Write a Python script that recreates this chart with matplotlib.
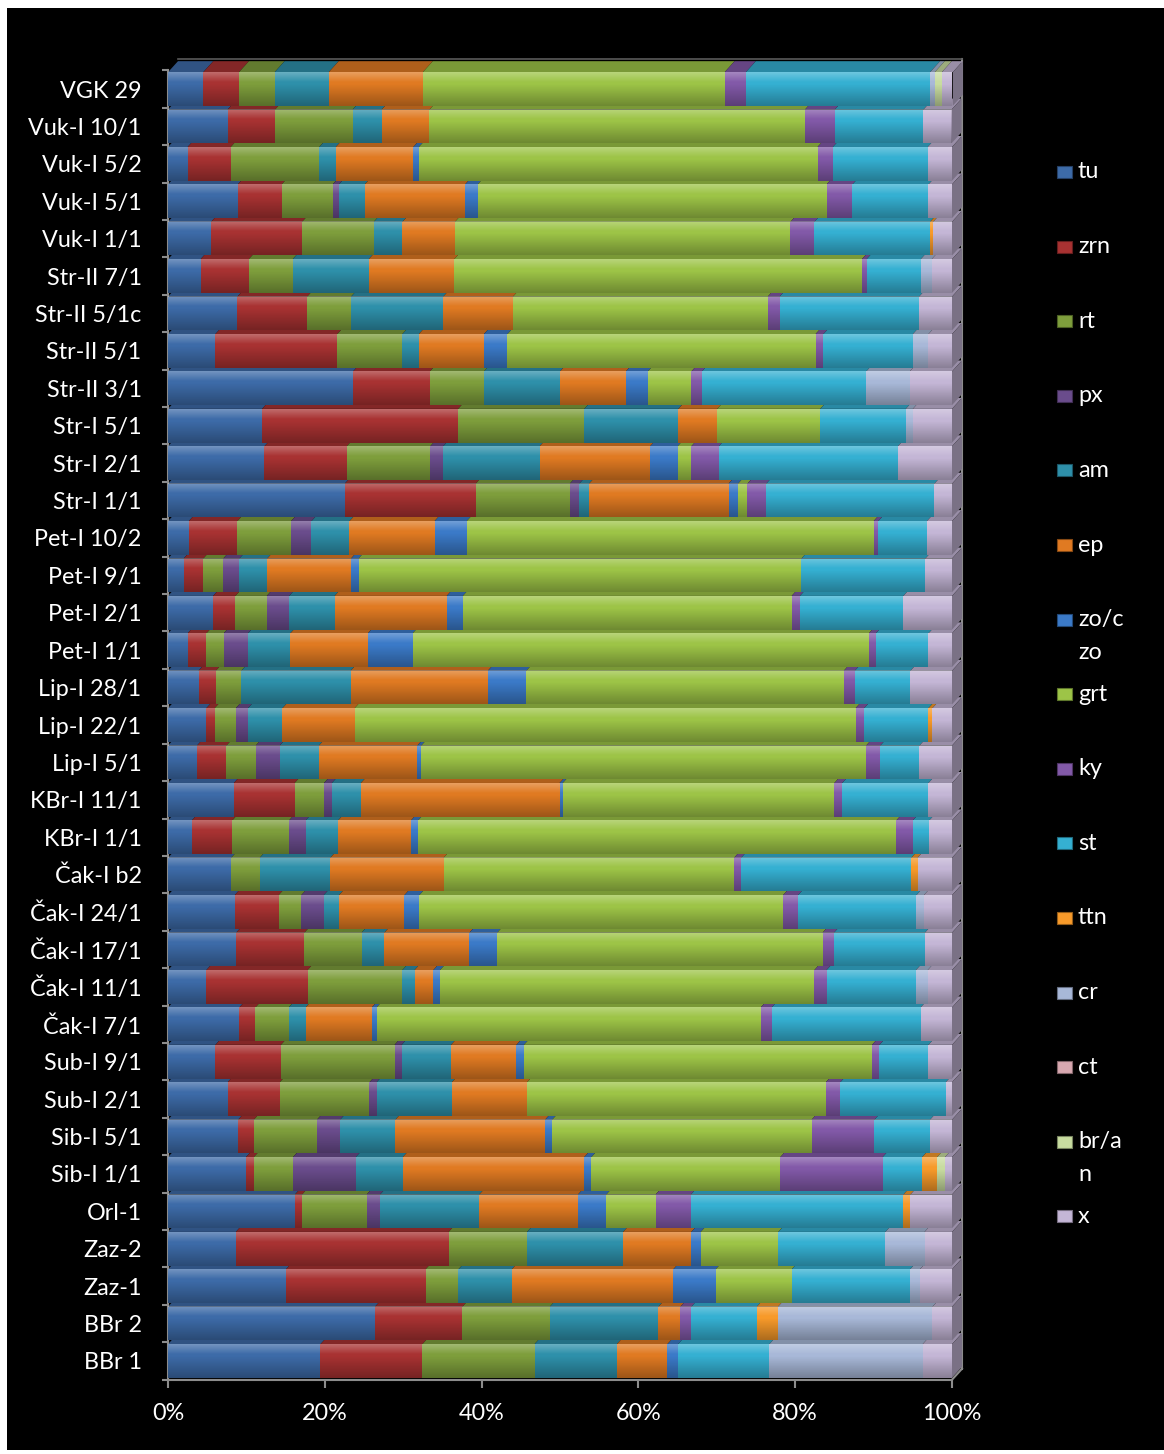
import numpy as np
import matplotlib
matplotlib.use("Agg")
import matplotlib.pyplot as plt
from matplotlib.patches import Polygon, Rectangle
import matplotlib.colors as mcolors

categories = ["VGK 29", "Vuk-I 10/1", "Vuk-I 5/2", "Vuk-I 5/1", "Vuk-I 1/1",
              "Str-II 7/1", "Str-II 5/1c", "Str-II 5/1", "Str-II 3/1", "Str-I 5/1",
              "Str-I 2/1", "Str-I 1/1", "Pet-I 10/2", "Pet-I 9/1", "Pet-I 2/1",
              "Pet-I 1/1", "Lip-I 28/1", "Lip-I 22/1", "Lip-I 5/1", "KBr-I 11/1",
              "KBr-I 1/1", "Čak-I b2", "Čak-I 24/1", "Čak-I 17/1", "Čak-I 11/1",
              "Čak-I 7/1", "Sub-I 9/1", "Sub-I 2/1", "Sib-I 5/1", "Sib-I 1/1",
              "Orl-1", "Zaz-2", "Zaz-1", "BBr 2", "BBr 1"]

tu  = [4.5, 7.6, 2.5, 8.9, 5.5, 4.15, 8.85, 6.05, 23.6, 12.0, 12.3, 22.55, 2.65, 2.0, 5.75, 2.5, 3.9, 4.9, 3.7, 8.4,
       3.05, 8.05, 8.5, 8.7, 4.9, 9.1, 6.05, 7.6, 8.95, 9.95, 16.2, 8.65, 15.05, 26.4, 19.45]
zrn = [4.55, 6.05, 5.5, 5.6, 11.6, 6.15, 8.9, 15.55, 9.8, 25.0, 10.5, 16.7, 6.2, 2.5, 2.85, 2.4, 2.2, 1.05, 3.75, 7.75,
       5.15, 0, 5.6, 8.7, 12.9, 2.05, 8.35, 6.65, 2.0, 1.0, 0.9, 27.15, 17.8, 11.15, 13.0]
rt  = [4.55, 9.9, 11.3, 6.5, 9.15, 5.6, 5.6, 8.3, 6.9, 16.1, 10.65, 12.0, 6.85, 2.55, 4.0, 2.2, 3.25, 2.7, 3.75, 3.75,
       7.25, 3.65, 2.9, 7.3, 12.1, 4.25, 14.5, 11.45, 8.05, 5.0, 8.25, 10.0, 4.2, 11.15, 14.3]
px  = [0, 0, 0, 0.8, 0, 0, 0, 0, 0, 0, 1.65, 1.2, 2.6, 2.05, 2.85, 3.1, 0, 1.55, 3.05, 1.0,
       2.1, 0, 2.85, 0, 0, 0, 0.9, 0.9, 2.95, 8.0, 1.7, 0, 0, 0, 0]
am  = [6.9, 3.7, 2.1, 3.3, 3.65, 9.7, 11.75, 2.1, 9.7, 12.0, 12.3, 1.25, 4.85, 3.55, 5.8, 5.4, 13.95, 4.4, 5.0, 3.7,
       4.15, 9.0, 1.95, 2.9, 1.55, 2.15, 6.3, 9.6, 7.05, 6.0, 12.65, 12.25, 6.8, 13.85, 10.5]
ep  = [12.0, 6.1, 9.9, 12.8, 6.7, 10.9, 8.9, 8.3, 8.4, 4.95, 14.1, 17.8, 10.85, 10.7, 14.3, 9.9, 17.5, 9.2, 12.55, 25.35,
       9.3, 14.45, 8.35, 10.85, 2.4, 8.45, 8.35, 9.6, 19.1, 23.15, 12.6, 8.7, 20.6, 2.8, 6.45]
zo  = [0, 0, 0.7, 1.6, 0, 0, 0, 3.0, 2.8, 0, 3.5, 1.2, 4.1, 0.95, 2.05, 5.7, 4.9, 0, 0.5, 0.4,
       0.9, 0, 1.9, 3.55, 0.85, 0.6, 0.95, 0, 0.9, 0.9, 3.6, 1.2, 5.4, 0, 1.35]
grt = [38.5, 47.9, 50.85, 44.5, 42.8, 52.0, 32.5, 39.3, 5.55, 13.15, 1.75, 1.2, 51.9, 56.5, 41.95, 58.2, 40.5, 63.9, 56.75, 34.65,
       61.0, 37.05, 46.4, 41.5, 47.75, 49.0, 44.4, 38.1, 33.1, 24.1, 6.3, 9.9, 9.7, 0, 0]
ky  = [2.7, 3.8, 1.95, 3.3, 3.05, 0.6, 1.5, 1.0, 1.35, 0, 3.5, 2.4, 0.6, 0, 1.05, 0.9, 1.4, 1.1, 1.8, 1.0,
       2.1, 0.9, 1.9, 1.45, 1.55, 1.4, 0.95, 1.85, 8.0, 13.05, 4.5, 0, 0, 1.4, 0]
st  = [23.5, 11.3, 12.1, 9.7, 14.75, 6.9, 17.8, 11.4, 20.95, 10.9, 22.85, 21.45, 6.2, 15.8, 13.2, 6.7, 7.1, 8.2, 5.0, 11.0,
       2.1, 21.7, 15.1, 11.6, 11.4, 19.0, 6.25, 13.45, 7.1, 5.05, 27.1, 13.65, 15.1, 8.35, 11.65]
ttn = [0, 0, 0, 0, 0.4, 0, 0, 0, 0, 0, 0, 0, 0, 0, 0, 0, 0, 0.5, 0, 0,
       0, 0.8, 0, 0, 0, 0, 0, 0, 0, 1.9, 0.9, 0, 0, 2.7, 0]
cr  = [0.6, 0, 0, 0, 0, 1.4, 0, 2.0, 5.55, 0.9, 0, 0, 0, 0, 0, 0, 0, 0, 0, 0,
       0, 0, 0.95, 0, 1.5, 0, 0, 0, 0, 0, 0, 5.0, 1.25, 19.7, 19.55]
ct  = [0] * 35
bran = [0.9, 0, 0, 0, 0, 0, 0, 0, 0, 0, 0, 0, 0, 0, 0, 0, 0, 0, 0, 0,
        0, 0, 0, 0, 0, 0, 0, 0, 0, 1.0, 0, 0, 0, 0, 0]
x_  = [1.4, 3.6, 3.1, 3.0, 2.4, 2.6, 4.2, 3.0, 5.4, 5.0, 6.9, 2.25, 3.2, 3.4, 6.2, 3.0, 5.3, 2.5, 4.15, 3.0,
       2.9, 4.4, 3.6, 3.45, 3.1, 4.0, 3.0, 0.8, 2.8, 0.9, 5.3, 3.5, 4.1, 2.5, 3.75]

series_names = ["tu", "zrn", "rt", "px", "am", "ep", "zo/czo", "grt", "ky", "st", "ttn", "cr", "ct", "br/an", "x"]
legend_labels = ["tu", "zrn", "rt", "px", "am", "ep", "zo/c\nzo", "grt", "ky", "st", "ttn", "cr", "ct", "br/a\nn", "x"]
series_values = [tu, zrn, rt, px, am, ep, zo, grt, ky, st, ttn, cr, ct, bran, x_]
colors = ["#3D6BA8", "#A83232", "#7E9E3C", "#6A4C8C", "#2E90AA", "#E07A22", "#3B7AC8",
          "#9DC447", "#8259A8", "#35B0D2", "#F79A2A", "#A8B8D8", "#D8A8B0", "#C8DCA0", "#C4B6D6"]

BG = "black"
FG = "white"
AXC = "#8C8C8C"
FONT = ["Lato", "DejaVu Sans"]
FS = 16.8

plt.rcParams['font.family'] = FONT

W, H = 1164, 1454
fig = plt.figure(figsize=(W / 100, H / 100), dpi=100, facecolor=BG)

x0px, x1px = 168, 952
ytop, ybot = 70.3, 1379.7
ax = fig.add_axes([x0px / W, 1 - ybot / H, (x1px - x0px) / W, (ybot - ytop) / H])
ax.set_facecolor(BG)
n = len(categories)
ax.set_xlim(0, 100)
ax.set_ylim(-0.5, n - 0.5)

px_per_x = (x1px - x0px) / 100.0
px_per_y = (ybot - ytop) / n
DX = 10.0 / px_per_x
DY = 11.0 / px_per_y
bh = 0.90

def shade(c, f):
    r, g, b = mcolors.to_rgb(c)
    return (r * f, g * f, b * f)

grad = np.zeros((64, 2, 4))
t = np.linspace(0, 1, 64)[:, None]
white_a = np.clip(0.28 * (1 - t / 0.3), 0, None)
black_a = np.clip(0.30 * (t - 0.35) / 0.65, 0, None)
grad[..., :3] = np.where(white_a > 0, 1.0, 0.0)[..., None]
grad[..., 3] = (white_a + black_a)[:, :]

vals = np.array(series_values)
for i in range(n - 1, -1, -1):
    ypos = n - 1 - i
    left = 0.0
    bottom = ypos - bh / 2
    top = ypos + bh / 2
    last_k = max(k for k in range(len(series_names)) if vals[k, i] > 0)
    for k in range(len(series_names)):
        v = vals[k, i]
        if v <= 0:
            continue
        ax.add_patch(Polygon([(left, top), (left + v, top), (left + v + DX, top + DY), (left + DX, top + DY)],
                             closed=True, facecolor=shade(colors[k], 0.78), edgecolor='none',
                             clip_on=False, zorder=2))
        ax.barh(ypos, v, left=left, height=bh, color=colors[k], edgecolor='none', zorder=3)
        if k == last_k:
            ax.add_patch(Polygon([(left + v, bottom), (left + v + DX, bottom + DY), (left + v + DX, top + DY), (left + v, top)],
                                 closed=True, facecolor=shade(colors[k], 0.62), edgecolor='none',
                                 clip_on=False, zorder=3))
        left += v
    ax.imshow(grad, extent=(0, left, bottom, top), aspect='auto', zorder=4, interpolation='bilinear')

ax.set_xlim(0, 100)
ax.set_ylim(-0.5, n - 0.5)

for s in ["top", "right"]:
    ax.spines[s].set_visible(False)
for s in ["left", "bottom"]:
    ax.spines[s].set_color(AXC)
    ax.spines[s].set_linewidth(1.5)
ax.plot([100, 100 + DX], [-0.5, -0.5 + DY], color=AXC, lw=1.5, clip_on=False, zorder=5)
ax.plot([100 + DX, 100 + DX], [-0.5 + DY, n - 0.5 + DY], color=AXC, lw=1.5, clip_on=False, zorder=1)
ax.plot([DX, 100 + DX], [n - 0.5 + DY, n - 0.5 + DY], color="#5A5A5A", lw=1.2, clip_on=False, zorder=1)

xt = [0, 20, 40, 60, 80, 100]
ax.set_xticks(xt)
ax.set_xticklabels([f"{v}%" for v in xt], fontsize=FS, color=FG)
ax.tick_params(axis='x', direction='out', length=6, width=1.5, color=AXC, pad=11)

ax.set_yticks(np.arange(n))
ax.set_yticklabels(categories[::-1], fontsize=FS, color=FG)
ax.set_yticks(np.arange(n + 1) - 0.5, minor=True)
ax.tick_params(axis='y', which='major', length=0, pad=19)
ax.tick_params(axis='y', which='minor', direction='out', length=4, width=1.5, color=AXC)

leg_x = 1057
leg_y0 = 172
leg_dy = 74.6
for k, lab in enumerate(legend_labels):
    yc = leg_y0 + k * leg_dy
    fig.patches.append(Rectangle((leg_x / W, 1 - (yc + 6) / H), 15 / W, 12 / H,
                                 transform=fig.transFigure, facecolor=colors[k],
                                 edgecolor=shade(colors[k], 0.6), lw=0.8))
    for j, ln in enumerate(lab.split("\n")):
        fig.text((leg_x + 21) / W, 1 - (yc + j * 33) / H, ln, fontsize=FS, color=FG,
                 va='center', ha='left')

fig.patches.append(Rectangle((0, 1 - 8 / H), 1, 8 / H, transform=fig.transFigure, facecolor=FG, edgecolor='none'))
fig.patches.append(Rectangle((0, 0), 7 / W, 1, transform=fig.transFigure, facecolor=FG, edgecolor='none'))
fig.patches.append(Rectangle((0, 0), 1, 4 / H, transform=fig.transFigure, facecolor=FG, edgecolor='none'))

fig.savefig("out.png", dpi=100, facecolor=BG)
